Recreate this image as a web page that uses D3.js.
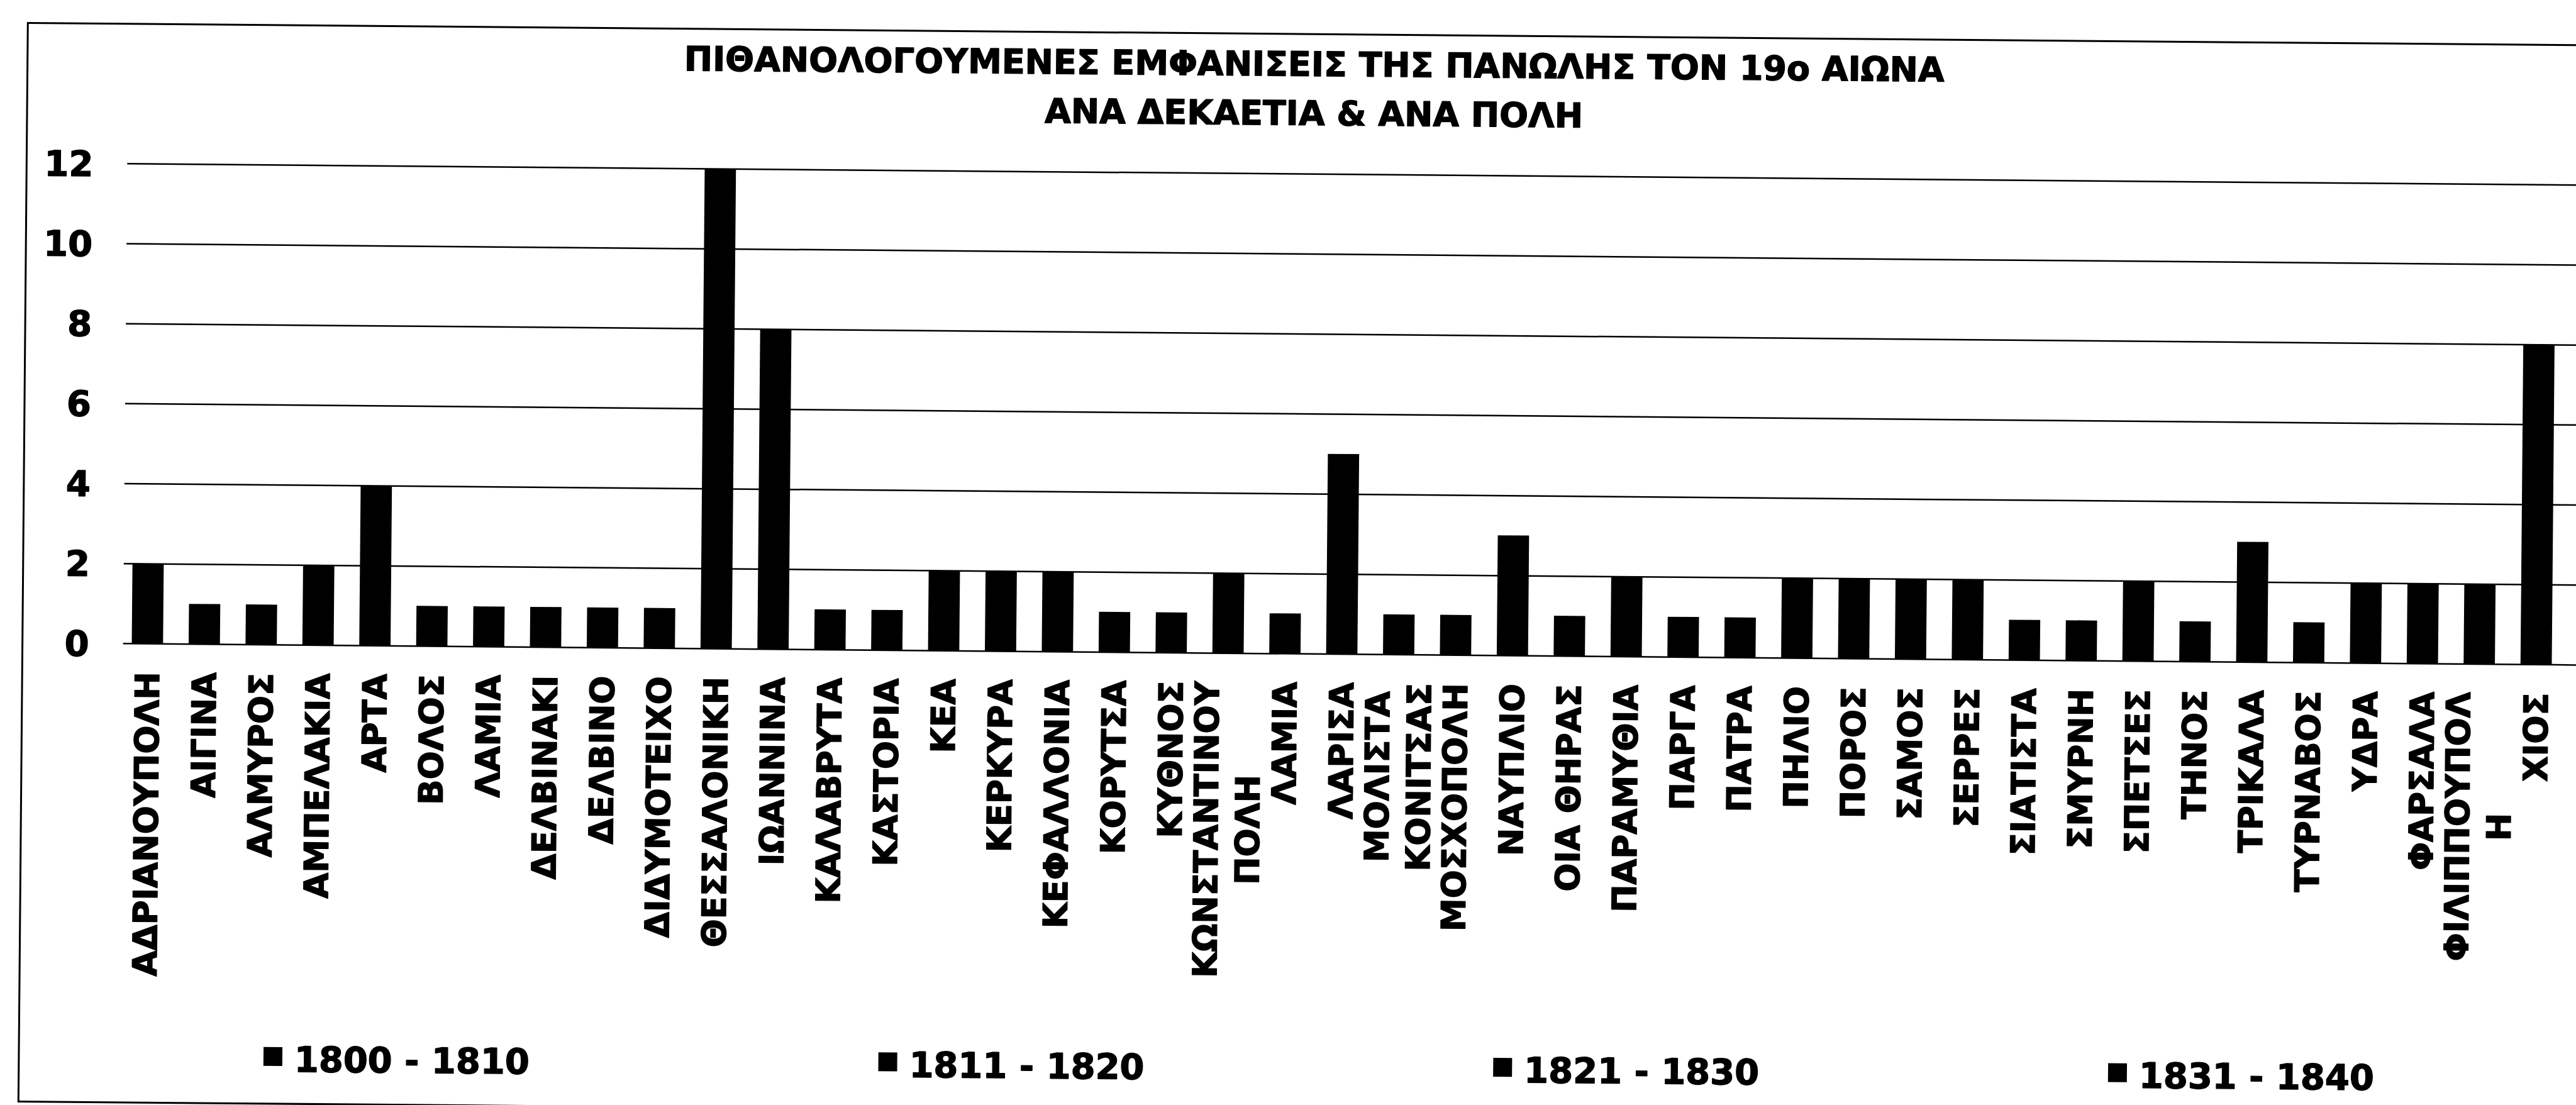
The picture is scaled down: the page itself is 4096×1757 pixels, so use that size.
<!DOCTYPE html>
<html>
<head>
<meta charset="utf-8">
<script src="https://cdn.jsdelivr.net/npm/d3@7"></script>
<style>
  html, body { margin: 0; padding: 0; background: #fff; }
  svg { display: block; }
  text { stroke: #000; stroke-width: 1.4px; stroke-linejoin: round; }
</style>
</head>
<body>
<script>
// Cities (one bar each); "\n" splits a label over two lines
const categories = [
  "ΑΔΡΙΑΝΟΥΠΟΛΗ", "ΑΙΓΙΝΑ", "ΑΛΜΥΡΟΣ", "ΑΜΠΕΛΑΚΙΑ", "ΑΡΤΑ", "ΒΟΛΟΣ", "ΛΑΜΙΑ",
  "ΔΕΛΒΙΝΑΚΙ", "ΔΕΛΒΙΝΟ", "ΔΙΔΥΜΟΤΕΙΧΟ", "ΘΕΣΣΑΛΟΝΙΚΗ", "ΙΩΑΝΝΙΝΑ", "ΚΑΛΑΒΡΥΤΑ",
  "ΚΑΣΤΟΡΙΑ", "ΚΕΑ", "ΚΕΡΚΥΡΑ", "ΚΕΦΑΛΛΟΝΙΑ", "ΚΟΡΥΤΣΑ", "ΚΥΘΝΟΣ",
  "ΚΩΝΣΤΑΝΤΙΝΟΥ\nΠΟΛΗ", "ΛΑΜΙΑ", "ΛΑΡΙΣΑ", "ΜΟΛΙΣΤΑ\nΚΟΝΙΤΣΑΣ", "ΜΟΣΧΟΠΟΛΗ",
  "ΝΑΥΠΛΙΟ", "ΟΙΑ ΘΗΡΑΣ", "ΠΑΡΑΜΥΘΙΑ", "ΠΑΡΓΑ", "ΠΑΤΡΑ", "ΠΗΛΙΟ", "ΠΟΡΟΣ",
  "ΣΑΜΟΣ", "ΣΕΡΡΕΣ", "ΣΙΑΤΙΣΤΑ", "ΣΜΥΡΝΗ", "ΣΠΕΤΣΕΣ", "ΤΗΝΟΣ", "ΤΡΙΚΑΛΑ",
  "ΤΥΡΝΑΒΟΣ", "ΥΔΡΑ", "ΦΑΡΣΑΛΑ", "ΦΙΛΙΠΠΟΥΠΟΛ\nΗ", "ΧΙΟΣ"
];

// Recorded appearances per city
const values = [
  2, 1, 1, 2, 4, 1, 1,
  1, 1, 1, 12, 8, 1,
  1, 2, 2, 2, 1, 1,
  2, 1, 5, 1, 1,
  3, 1, 2, 1, 1, 2, 2,
  2, 2, 1, 1, 2, 1, 3,
  1, 2, 2, 2, 8
];

const yTicks = [0, 2, 4, 6, 8, 10, 12];

const decades = ["1800 - 1810", "1811 - 1820", "1821 - 1830", "1831 - 1840"];

const titleLines = [
  "ΠΙΘΑΝΟΛΟΓΟΥΜΕΝΕΣ ΕΜΦΑΝΙΣΕΙΣ ΤΗΣ ΠΑΝΩΛΗΣ ΤΟΝ 19ο ΑΙΩΝΑ",
  "ΑΝΑ ΔΕΚΑΕΤΙΑ & ΑΝΑ ΠΟΛΗ"
];

const W = 4096, H = 1757;
const FONT = "'DejaVu Sans', Verdana, sans-serif";

const svg = d3.select("body").append("svg")
  .attr("width", W)
  .attr("height", H);

svg.append("rect").attr("width", W).attr("height", H).attr("fill", "#fff");

// The whole sheet sits slightly tilted
const sheet = svg.append("g").attr("transform", "rotate(0.5 2048 878)");

// Chart frame
sheet.append("rect")
  .attr("x", 37).attr("y", 54)
  .attr("width", 4300).attr("height", 1715)
  .attr("fill", "none")
  .attr("stroke", "#000")
  .attr("stroke-width", 3);

const gridLeft = 197, gridRight = 4110;

const x = d3.scaleBand()
  .domain(d3.range(categories.length))
  .range([190.5, 4079.3])
  .paddingInner(0.45)
  .paddingOuter(0.225);

const y = d3.scaleLinear()
  .domain([0, 12])
  .range([1039, 276]);

// Horizontal gridlines with value labels
const yAxis = d3.axisLeft(y)
  .tickValues(yTicks)
  .tickSize(-(gridRight - gridLeft))
  .tickPadding(54)
  .tickFormat(d3.format("d"));

const ga = sheet.append("g")
  .attr("transform", `translate(${gridLeft},0)`)
  .call(yAxis);
ga.select(".domain").remove();
ga.selectAll(".tick line")
  .attr("stroke", "#000")
  .attr("stroke-width", 2.5);
ga.selectAll(".tick text")
  .attr("fill", "#000")
  .attr("font-family", FONT)
  .attr("font-weight", "bold")
  .attr("font-size", 56)
  .attr("dy", "0.36em");

// Bars
sheet.append("g")
  .selectAll("rect")
  .data(values)
  .join("rect")
  .attr("x", (d, i) => x(i))
  .attr("y", d => y(d))
  .attr("width", x.bandwidth())
  .attr("height", d => y(0) - y(d))
  .attr("fill", "#000");

// Vertical city labels, block top aligned under the axis, lines centred on each other
const labelTop = 1084, lineGap = 66;
const lg = sheet.append("g");
categories.forEach((name, i) => {
  const lines = name.split("\n");
  const cx = x(i) + x.bandwidth() / 2;
  const g = lg.append("g").attr("transform", `translate(${cx},0) rotate(-90)`);
  const texts = lines.map((ln, k) => g.append("text")
    .attr("font-family", FONT)
    .attr("font-weight", "bold")
    .attr("font-size", 53)
    .attr("fill", "#000")
    .attr("text-anchor", "middle")
    .attr("y", (k - (lines.length - 1) / 2) * lineGap)
    .attr("dy", "0.36em")
    .text(ln));
  const maxLen = d3.max(texts, t => t.node().getComputedTextLength());
  texts.forEach(t => t.attr("x", -(labelTop + maxLen / 2)));
});

// Legend
const legend = sheet.append("g");
decades.forEach((d, i) => {
  const cx = 441 + i * 977.7;
  legend.append("rect")
    .attr("x", cx - 15).attr("y", 1679)
    .attr("width", 30).attr("height", 30)
    .attr("fill", "#000");
  legend.append("text")
    .attr("x", cx + 34).attr("y", 1718)
    .attr("font-family", FONT)
    .attr("font-weight", "bold")
    .attr("font-size", 56)
    .attr("fill", "#000")
    .text(d);
});

// Title
sheet.append("g")
  .selectAll("text")
  .data(titleLines)
  .join("text")
  .attr("x", 2083)
  .attr("y", (d, i) => 120.6 + i * 78)
  .attr("text-anchor", "middle")
  .attr("font-family", FONT)
  .attr("font-weight", "bold")
  .attr("font-size", 54)
  .attr("fill", "#000")
  .text(d => d);
</script>
</body>
</html>
